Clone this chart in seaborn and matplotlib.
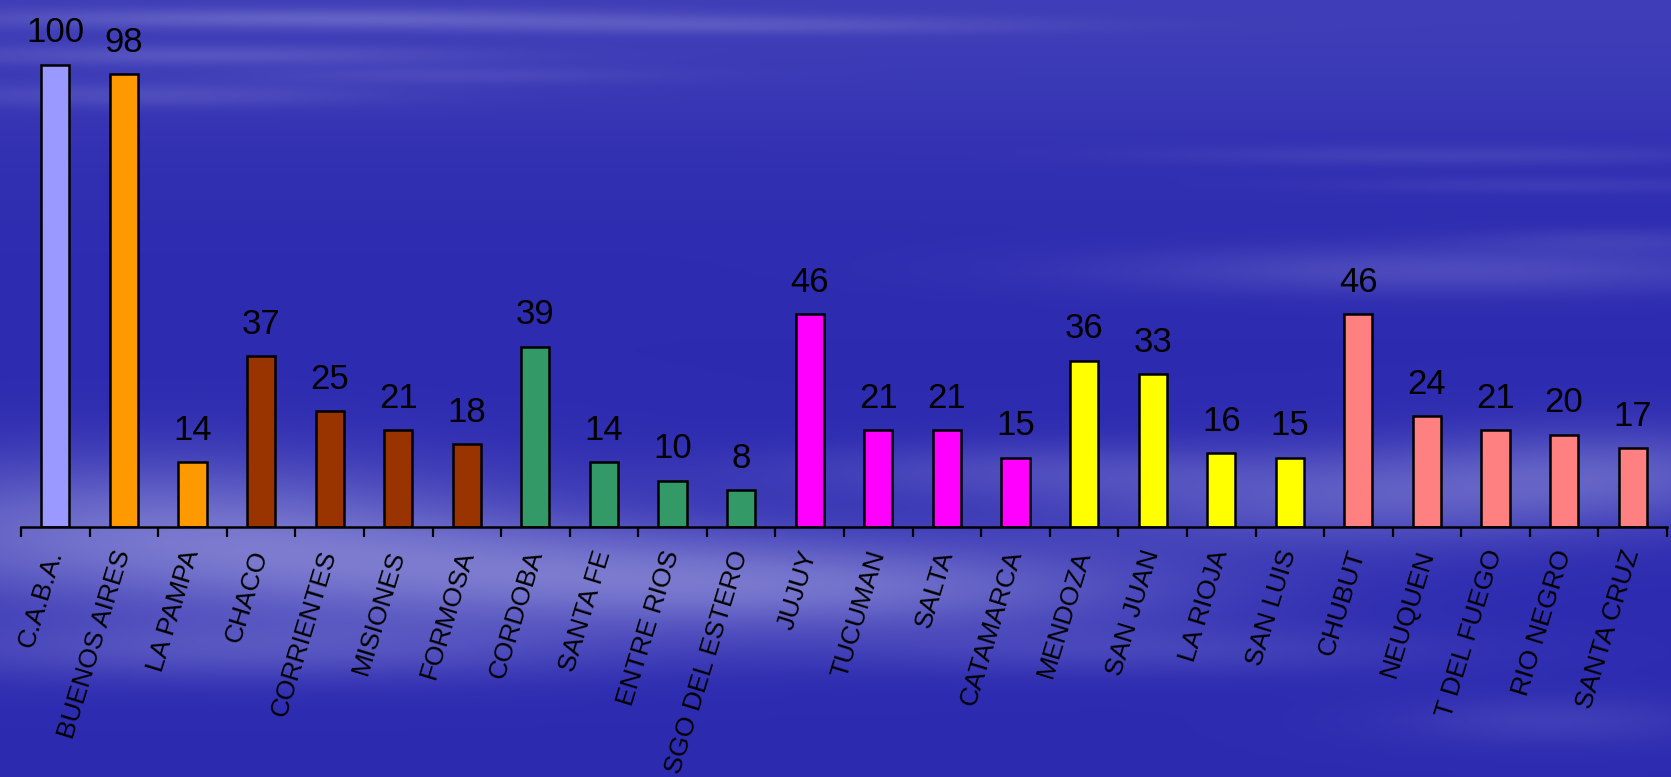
import numpy as np
import matplotlib
matplotlib.use("Agg")
import matplotlib.pyplot as plt
import seaborn as sns

provincias = ["C.A.B.A.", "BUENOS AIRES", "LA PAMPA", "CHACO", "CORRIENTES",
              "MISIONES", "FORMOSA", "CORDOBA", "SANTA FE", "ENTRE RIOS",
              "SGO DEL ESTERO", "JUJUY", "TUCUMAN", "SALTA", "CATAMARCA",
              "MENDOZA", "SAN JUAN", "LA RIOJA", "SAN LUIS", "CHUBUT",
              "NEUQUEN", "T DEL FUEGO", "RIO NEGRO", "SANTA CRUZ"]
valores = [100, 98, 14, 37, 25, 21, 18, 39, 14, 10, 8, 46, 21, 21, 15,
           36, 33, 16, 15, 46, 24, 21, 20, 17]
region = ["caba", "bsas", "bsas", "nea", "nea", "nea", "nea", "centro",
          "centro", "centro", "centro", "noa", "noa", "noa", "noa",
          "cuyo", "cuyo", "cuyo", "cuyo", "sur", "sur", "sur", "sur", "sur"]
region_colors = {"caba": "#9999FF", "bsas": "#FF9900", "nea": "#993300",
                 "centro": "#339966", "noa": "#FF00FF", "cuyo": "#FFFF00",
                 "sur": "#FF8080"}

sns.set_style("white")
plt.rcParams["font.family"] = ["Liberation Sans", "DejaVu Sans"]

W, H = 1671, 777
fig = plt.figure(figsize=(W / 100, H / 100), dpi=100)

# background: blue slide with soft light streaks
yy, xx = np.mgrid[0:H, 0:W].astype(float)
field = 0.12 * np.exp(-(yy / 150.0) ** 2)
blobs = [  # cx, cy, sx, sy, amp
    (300, 18, 350, 10, 0.22), (750, 25, 300, 9, 0.15), (200, 55, 280, 10, 0.16),
    (150, 95, 240, 12, 0.14), (450, 75, 220, 9, 0.10), (1450, 155, 280, 9, 0.10),
    (1550, 185, 220, 8, 0.08), (1450, 270, 340, 24, 0.20), (1620, 240, 150, 12, 0.10),
    (150, 530, 380, 75, 0.42), (550, 575, 380, 55, 0.34), (900, 590, 320, 45, 0.28),
    (1350, 500, 320, 50, 0.28), (1620, 470, 220, 45, 0.24), (250, 650, 380, 32, 0.22),
    (1150, 650, 300, 25, 0.14), (1000, 470, 260, 28, 0.15), (1550, 720, 160, 25, 0.12),
]
for cx, cy, sx, sy, amp in blobs:
    field += amp * np.exp(-((xx - cx) / sx) ** 2 - ((yy - cy) / sy) ** 2)
field = np.clip(field, 0, 1)
base = np.array([0.176, 0.169, 0.690])
light = np.array([0.78, 0.78, 0.93])
img = base + (light - base) * field[..., None]

bg = fig.add_axes([0, 0, 1, 1], zorder=0)
bg.imshow(img, aspect="auto", extent=(0, 1, 0, 1))
bg.axis("off")

ax = fig.add_axes([21 / W, 250 / H, 1646 / W, 527 / H], zorder=1)
ax.patch.set_alpha(0)

sns.barplot(x=provincias, y=valores, hue=provincias,
            palette=[region_colors[r] for r in region], legend=False,
            edgecolor="black", linewidth=1.8, width=0.41, saturation=1, ax=ax)

for cont in ax.containers:
    ax.bar_label(cont, padding=11, fontsize=25, color="black")

ax.set_xlim(-0.5, len(provincias) - 0.5)
ax.set_ylim(0, 114)
ax.set_xlabel("")
ax.set_ylabel("")
ax.set_yticks([])
for s in ["top", "right", "left"]:
    ax.spines[s].set_visible(False)
ax.spines["bottom"].set_linewidth(1.8)
ax.spines["bottom"].set_color("black")

ax.set_xticks(range(len(provincias)))
ax.set_xticklabels(provincias, rotation=73, ha="right", va="center",
                   rotation_mode="anchor", fontsize=19, color="black")
ax.set_xticks(np.arange(-0.5, len(provincias)), minor=True)
ax.tick_params(axis="x", which="major", length=0, pad=17)
ax.tick_params(axis="x", which="minor", length=7, width=1.6, color="black",
               direction="out", bottom=True)

fig.savefig("out.png", dpi=100)
